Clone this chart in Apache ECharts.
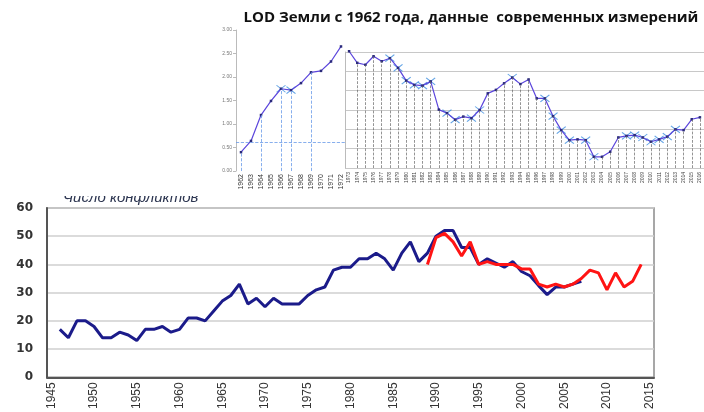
<!DOCTYPE html>
<html>
<head>
<meta charset="utf-8">
<script src="https://cdn.jsdelivr.net/npm/echarts@6/dist/echarts.min.js"></script>
<style>
  html, body { margin: 0; padding: 0; background: #fff; }
  #chart { width: 704px; height: 412px; }
</style>
</head>
<body>
<div id="chart"></div>
<script>
// LOD (top)
const lodTitle = 'LOD Земли с 1962 года, данные  современных измерений'
const lodLeftYears = ['1962', '1963', '1964', '1965', '1966', '1967', '1968', '1969', '1970', '1971', '1972']
const lodLeftValues = [0.40, 0.64, 1.19, 1.49, 1.75, 1.72, 1.87, 2.10, 2.13, 2.33, 2.65]
const lodLeftDropYears = ['1962', '1964', '1966', '1967', '1969']
const lodLeftRefLevel = [0.62]
const lodLeftCrossYears = ['1966', '1967']

const lodRightYears = ['1973', '1974', '1975', '1976', '1977', '1978', '1979', '1980', '1981', '1982',
  '1983', '1984', '1985', '1986', '1987', '1988', '1989', '1990', '1991', '1992',
  '1993', '1994', '1995', '1996', '1997', '1998', '1999', '2000', '2001', '2002',
  '2003', '2004', '2005', '2006', '2007', '2008', '2009', '2010', '2011', '2012',
  '2013', '2014', '2015', '2016']
const lodRightValues = [3.02, 2.72, 2.67, 2.89, 2.76, 2.84, 2.59, 2.26, 2.15, 2.13,
  2.24, 1.51, 1.42, 1.25, 1.33, 1.29, 1.50, 1.93, 2.02, 2.19,
  2.34, 2.17, 2.29, 1.80, 1.80, 1.34, 0.98, 0.72, 0.74, 0.72,
  0.29, 0.29, 0.42, 0.79, 0.83, 0.85, 0.79, 0.68, 0.74, 0.81,
  1.00, 0.98, 1.26, 1.31]
const lodRightCrossYears = ['1978', '1979', '1980', '1981', '1982', '1983', '1985', '1986', '1988', '1989',
  '1993', '1997', '1998', '1999', '2000', '2002', '2003', '2007', '2008', '2009',
  '2010', '2011', '2012', '2013']

// conflicts (bottom)
const conflictTitle = 'Число конфликтов'
const conflictYears = ['1945', '1946', '1947', '1948', '1949', '1950', '1951', '1952', '1953', '1954',
  '1955', '1956', '1957', '1958', '1959', '1960', '1961', '1962', '1963', '1964',
  '1965', '1966', '1967', '1968', '1969', '1970', '1971', '1972', '1973', '1974',
  '1975', '1976', '1977', '1978', '1979', '1980', '1981', '1982', '1983', '1984',
  '1985', '1986', '1987', '1988', '1989', '1990', '1991', '1992', '1993', '1994',
  '1995', '1996', '1997', '1998', '1999', '2000', '2001', '2002', '2003', '2004',
  '2005', '2006', '2007', '2008', '2009', '2010', '2011', '2012', '2013', '2014', '2015']
const blueFrom = 1946
const blueValues = [17, 14, 20, 20, 18, 14, 14, 16, 15, 13,
  17, 17, 18, 16, 17, 21, 21, 20, 23.5, 27,
  29, 33, 26, 28, 25, 28, 26, 26, 26, 29,
  31, 32, 38, 39, 39, 42, 42, 44, 42, 38,
  44, 48, 41, 44, 50, 52, 52, 46, 46, 40,
  42, 40.5, 39, 41, 37.5, 36, 32.5, 29.3, 32, 32,
  33, 34]
const redFrom = 1989
const redValues = [40, 49.5, 51, 48, 43, 48, 40, 41, 40, 40,
  40, 38.4, 38.4, 33, 32, 33, 32, 33, 35, 38,
  37, 31, 37, 32, 34, 40]

const chart = echarts.init(document.getElementById('chart'))

function pairs(from, values) {
  return values.map((v, i) => [String(from + i), v])
}

function crossData(years, cats, values) {
  return years.map((y) => [y, values[cats.indexOf(y)]])
}

const crossSymbol = 'path://M0,0L10,8M10,0L0,8'
const lodColor = '#5b45dc'

chart.setOption({
  animation: false,
  backgroundColor: '#fff',
  textStyle: { fontFamily: 'Liberation Sans, Arial, sans-serif' },
  title: [
    {
      text: lodTitle,
      left: 466,
      top: 5,
      textAlign: 'center',
      textStyle: { fontFamily: 'Open Sans', fontWeight: 'bold', fontSize: 15, color: '#111' },
    },
  ],
  grid: [
    { left: 236, top: 30, width: 110, height: 141 },
    { left: 345, top: 52, width: 363, height: 116 },
    { left: 47, top: 208, width: 607, height: 176, show: true, borderColor: '#8a8a8a', borderWidth: 1.5 },
  ],
  xAxis: [
    {
      gridIndex: 0,
      type: 'category',
      data: lodLeftYears,
      axisLine: { show: false },
      axisTick: { show: false },
      axisLabel: { rotate: 90, fontSize: 7, color: '#333', interval: 0, margin: 3 },
    },
    {
      gridIndex: 1,
      type: 'category',
      data: lodRightYears,
      axisLine: { show: false },
      axisTick: { show: false },
      axisLabel: { rotate: 90, fontSize: 5, color: '#444', interval: 0, margin: 4 },
    },
    {
      gridIndex: 2,
      type: 'category',
      data: conflictYears,
      axisLine: { lineStyle: { color: '#555', width: 2 } },
      axisTick: { show: false },
      axisLabel: { rotate: 90, fontSize: 12, color: '#333', interval: 4, margin: 5 },
    },
  ],
  yAxis: [
    {
      gridIndex: 0,
      type: 'value',
      min: 0,
      max: 3,
      interval: 0.5,
      splitLine: { show: false },
      axisLine: { show: true, lineStyle: { color: '#bbb' } },
      axisTick: { show: true, length: 3, lineStyle: { color: '#bbb' } },
      axisLabel: { fontSize: 5, color: '#777', margin: 4, formatter: (v) => v.toFixed(2) },
    },
    {
      gridIndex: 1,
      type: 'value',
      min: 0,
      max: 3,
      interval: 0.5,
      splitLine: { lineStyle: { color: '#c8c8c8' } },
      axisLine: { show: true, lineStyle: { color: '#bbb' } },
      axisTick: { show: false },
      axisLabel: { show: false },
    },
    {
      gridIndex: 2,
      type: 'value',
      min: 0,
      max: 60,
      interval: 10,
      splitLine: { lineStyle: { color: '#cfcfcf', width: 1.5 } },
      axisLine: { show: true, lineStyle: { color: '#555', width: 2 } },
      axisTick: { show: false },
      axisLabel: { fontSize: 12, fontWeight: 'bold', fontFamily: 'DejaVu Sans', color: '#333', margin: 14 },
    },
  ],
  series: [
    {
      type: 'line',
      xAxisIndex: 0,
      yAxisIndex: 0,
      data: lodLeftValues,
      symbol: 'rect',
      symbolSize: 2.5,
      clip: false,
      lineStyle: { color: lodColor, width: 1.2 },
      itemStyle: { color: '#2a2a7a' },
      markLine: {
        silent: true,
        symbol: 'none',
        label: { show: false },
        lineStyle: { type: 'dashed', color: '#6a9be8', width: 0.8 },
        data: lodLeftDropYears
          .map((y) => [{ coord: [y, 0] }, { coord: [y, lodLeftValues[lodLeftYears.indexOf(y)]] }])
          .concat(lodLeftRefLevel.map((v) => ({ yAxis: v }))),
      },
    },
    {
      type: 'scatter',
      xAxisIndex: 0,
      yAxisIndex: 0,
      data: crossData(lodLeftCrossYears, lodLeftYears, lodLeftValues),
      symbol: crossSymbol,
      symbolSize: [9, 7],
      itemStyle: { color: 'transparent', borderColor: '#3d8fe0', borderWidth: 1 },
    },
    {
      type: 'line',
      xAxisIndex: 1,
      yAxisIndex: 1,
      data: lodRightValues,
      symbol: 'rect',
      symbolSize: 2.5,
      clip: false,
      lineStyle: { color: lodColor, width: 1.2 },
      itemStyle: { color: '#2a2a7a' },
      markLine: {
        silent: true,
        symbol: 'none',
        label: { show: false },
        lineStyle: { type: 'dashed', color: '#666', width: 0.7 },
        data: lodRightYears.map((y, i) => [{ coord: [i, 0] }, { coord: [i, lodRightValues[i]] }]),
      },
    },
    {
      type: 'scatter',
      xAxisIndex: 1,
      yAxisIndex: 1,
      data: crossData(lodRightCrossYears, lodRightYears, lodRightValues),
      symbol: crossSymbol,
      symbolSize: [9, 7],
      itemStyle: { color: 'transparent', borderColor: '#3d8fe0', borderWidth: 1 },
    },
    {
      type: 'line',
      xAxisIndex: 2,
      yAxisIndex: 2,
      data: pairs(blueFrom, blueValues),
      showSymbol: false,
      lineStyle: { color: '#1b1b8a', width: 3 },
    },
    {
      type: 'line',
      xAxisIndex: 2,
      yAxisIndex: 2,
      data: pairs(redFrom, redValues),
      showSymbol: false,
      lineStyle: { color: '#ff1414', width: 3 },
    },
  ],
  graphic: [
    {
      type: 'text',
      left: 63,
      top: 190,
      z: 10,
      style: { text: conflictTitle, font: 'italic 15px "Liberation Sans", Arial', fill: '#2c3550' },
    },
    {
      type: 'rect',
      z: 11,
      shape: { x: 55, y: 180, width: 165, height: 16 },
      style: { fill: '#fff' },
    },
  ],
})
</script>
</body>
</html>
